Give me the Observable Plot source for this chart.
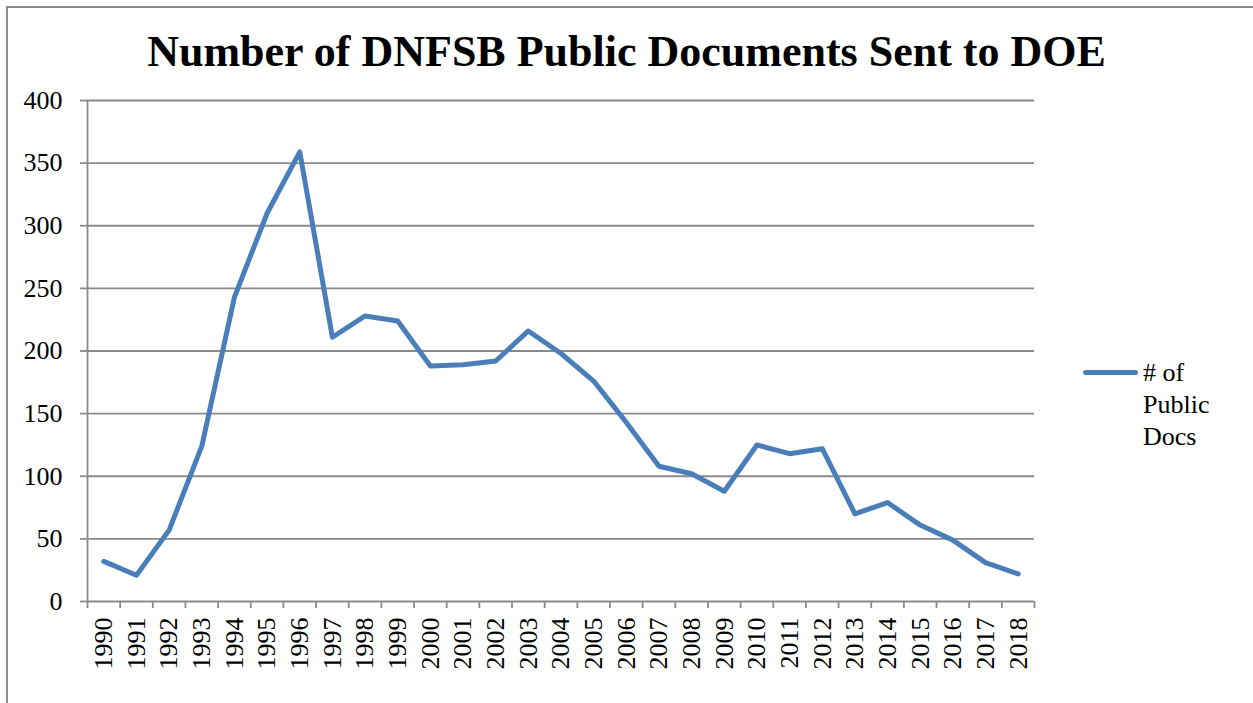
<!DOCTYPE html>
<html>
<head>
<meta charset="utf-8">
<script src="https://cdn.jsdelivr.net/npm/d3@7"></script>
<script src="https://cdn.jsdelivr.net/npm/@observablehq/plot@0.6"></script>
<style>
  html, body { margin: 0; padding: 0; background: #fff; overflow: hidden; }
  #wrap { position: relative; width: 1253px; height: 703px; overflow: hidden; font-family: "Liberation Serif", "Times New Roman", serif; }
  #frame { position: absolute; left: 6px; top: 6px; width: 1300px; height: 760px; border-left: 2px solid #8c8c8c; border-top: 2px solid #8c8c8c; box-sizing: border-box; }
  #title { position: absolute; left: 0; width: 1253px; top: 27px; text-align: center; font-weight: bold; font-size: 44px; line-height: 50px; color: #000; }
  #chart { position: absolute; left: 0; top: 0; width: 1253px; height: 703px; }
  #legend { position: absolute; left: 1083px; top: 357px; display: flex; align-items: flex-start; }
  #legend .sw { width: 55px; height: 5px; background: #4a7ebb; border-radius: 3px; margin-top: 13px; margin-right: 5px; }
  #legend .tx { font-size: 26px; line-height: 32px; color: #000; }
</style>
</head>
<body>
<div id="wrap">
  <div id="frame"></div>
  <div id="chart"></div>
  <div id="title">Number of DNFSB Public Documents Sent to DOE</div>
  <div id="legend"><div class="sw"></div><div class="tx"># of<br>Public<br>Docs</div></div>
</div>
<script>
const years = [1990,1991,1992,1993,1994,1995,1996,1997,1998,1999,2000,2001,2002,2003,2004,2005,2006,2007,2008,2009,2010,2011,2012,2013,2014,2015,2016,2017,2018];
const docs  = [32,21,57,124,243,310,359,211,228,224,188,189,192,216,198,176,143,108,102,88,125,118,122,70,79,61,49,31,22];
const yTicks = [0,50,100,150,200,250,300,350,400];
const seriesName = "# of Public Docs";

const data = years.map((y, i) => ({year: y, value: docs[i]}));
const boundaries = [years[0] - 0.5, ...years.map(y => y + 0.5)];
const gridColor = "#8a8a8a";

const chart = Plot.plot({
  width: 1253,
  height: 703,
  marginLeft: 87,
  marginRight: 219,
  marginTop: 100,
  marginBottom: 102,
  style: {fontFamily: "'Liberation Serif', 'Times New Roman', serif", fontSize: "26px", color: "#000", background: "transparent"},
  x: {domain: [boundaries[0], boundaries[boundaries.length - 1]]},
  y: {domain: [0, 400]},
  marks: [
    Plot.gridY(yTicks, {stroke: gridColor, strokeOpacity: 1, strokeWidth: 1.8}),
    Plot.ruleX([boundaries[0]], {stroke: gridColor, strokeWidth: 1.8}),
    Plot.axisY(yTicks, {tickSize: 7, tickPadding: 18, stroke: gridColor, strokeWidth: 1.8, fontSize: 26, label: null, tickFormat: d => String(d)}),
    Plot.axisX(boundaries, {tickSize: 7, stroke: gridColor, strokeWidth: 1.8, tickFormat: () => "", label: null}),
    Plot.axisX(years, {tickSize: 0, tickPadding: 16, tickRotate: -90, fontSize: 26, tickFormat: d => String(d), label: null}),
    Plot.lineY(data, {x: "year", y: "value", stroke: "#4a7ebb", strokeWidth: 5, strokeLinecap: "round", strokeLinejoin: "round"})
  ]
});
document.getElementById("chart").appendChild(chart);
</script>
</body>
</html>
